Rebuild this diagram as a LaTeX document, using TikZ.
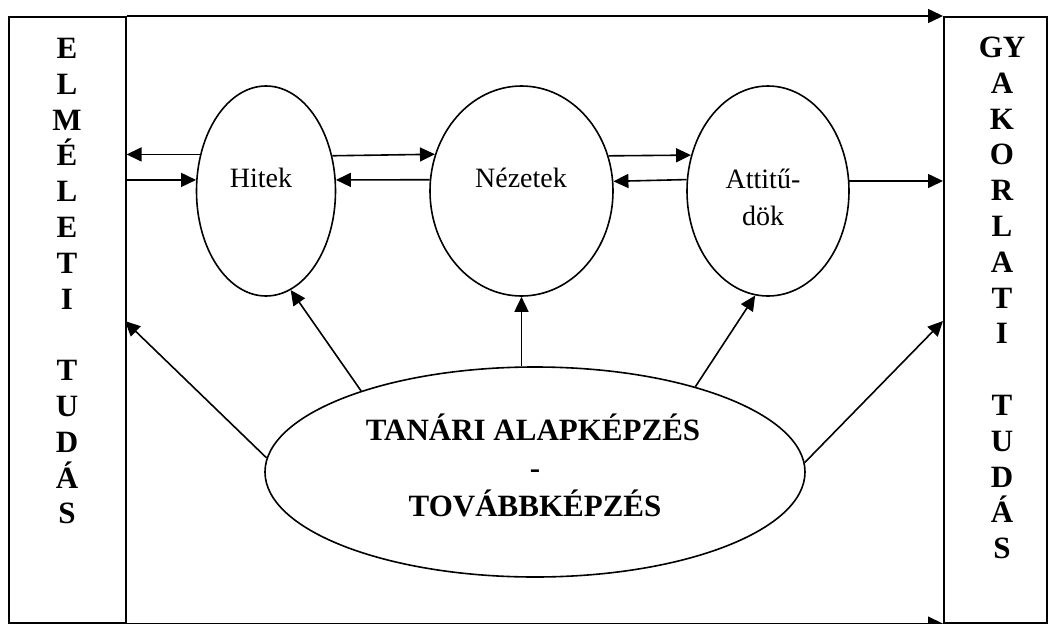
\documentclass[tikz,border=0pt]{standalone}
\usepackage{fontspec}
\setmainfont{Liberation Serif}
\usetikzlibrary{arrows.meta,shapes.geometric}
\tikzset{
  ln/.style={line width=1.6pt},
  arr/.style={ln,-{Triangle[length=15pt,width=14pt]}},
  ell/.style={ellipse,draw,ln,inner sep=0pt},
  colbox/.style={rectangle,draw,ln,inner sep=0pt,anchor=north west},
  colletter/.style={anchor=base,inner sep=0pt,font=\fontsize{31}{36}\selectfont\bfseries},
  elltext/.style={anchor=base,inner sep=0pt,font=\fontsize{28}{36}\selectfont},
  bigtext/.style={anchor=base,inner sep=0pt,font=\fontsize{31}{38}\selectfont\bfseries}
}
\begin{document}
\begin{tikzpicture}[x=1pt,y=-1pt]
\useasboundingbox (0,0) rectangle (1053,624);
% columns
\node[colbox,minimum width=117pt,minimum height=606pt] (lbox) at (8,16) {};
\node[colbox,minimum width=103pt,minimum height=606pt] (rbox) at (943,16) {};
\foreach \i/\t [count=\k] in {0/E,1/L,2/M,3/É,4/L,5/E,6/T,7/I,9/T,10/U,11/D,12/Á,13/S}
  \node[colletter] (l\k) at (67,58.5+35.8*\i) {\t};
\foreach \i/\t [count=\k] in {0/GY,1/A,2/K,3/O,4/R,5/L,6/A,7/T,8/I,10/T,11/U,12/D,13/Á,14/S}
  \node[colletter] (r\k) at (1002,57.5+35.8*\i) {\t};
% top and bottom arrows
\draw[arr] (lbox.north east) -- (rbox.north west);
\draw[arr] (lbox.south east) -- (rbox.south west);
% ellipses
\node[ell,minimum width=139pt,minimum height=210pt] (hit) at (266,191) {};
\node[ell,minimum width=183pt,minimum height=210pt] (nez) at (521.5,191) {};
\node[ell,minimum width=162pt,minimum height=210pt] (att) at (768,191) {};
\node[ell,minimum width=540pt,minimum height=210pt] (tb) at (535,472) {};
% texts
\node[elltext] (thit) at (261,187) {Hitek};
\node[elltext] (tnez) at (521,187) {Nézetek};
\node[elltext] (tatt1) at (763,188) {Attitű-};
\node[elltext] (tatt2) at (763,225) {dök};
\node[bigtext] (tb1) at (533,440) {TANÁRI ALAPKÉPZÉS};
\node[bigtext] (tb2) at (535,478) {-};
\node[bigtext] (tb3) at (535,516) {TOVÁBBKÉPZÉS};
% horizontal arrows
\draw[arr] (hit.151.9) -- (hit.151.9 -| lbox.east);
\draw[arr] (hit.171 -| lbox.east) -- (hit.171);
\draw[arr] (hit.28.1) -- (nez.157.9);
\draw[arr] (nez.173.1) -- (hit.9);
\draw[arr] (nez.22.1) -- (att.155.4);
\draw[arr] (att.172.2) -- (nez.6.9);
\draw[arr] (att.7.8) -- (att.7.8 -| rbox.west);
% diagonal arrows
\coordinate (tipL) at (125,321);
\coordinate (tipR) at (943,321);
\draw[arr] (tb.177.4) -- (tipL);
\draw[arr] (tb.155.2) -- (hit.-76);
\draw[arr] (nez.south |- tb.north) -- (nez.south);
\draw[arr] (tb.28.8) -- (att.-97);
\draw[arr] (tb.2.35) -- (tipR);
\end{tikzpicture}
\end{document}
